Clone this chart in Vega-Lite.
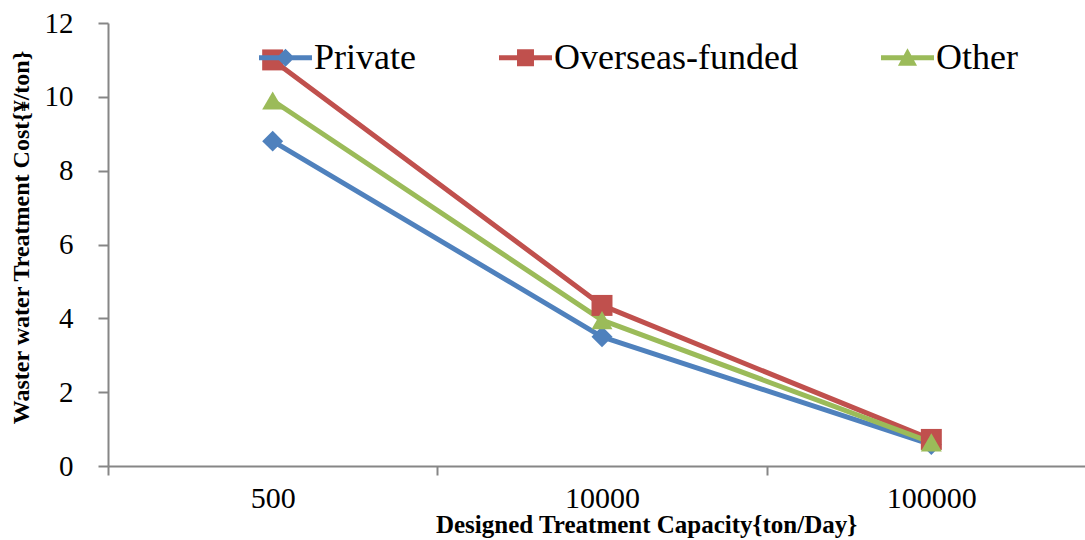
{
  "$schema": "https://vega.github.io/schema/vega-lite/v6.json",
  "width": 988,
  "height": 443,
  "autosize": {"type": "none"},
  "padding": {"left": 108, "top": 23, "right": 0, "bottom": 74},
  "background": "white",
  "config": {"view": {"stroke": null}, "font": "Liberation Serif"},
  "data": {
    "values": [
      {"capacity": "500", "series": "Private", "cost": 8.8},
      {"capacity": "10000", "series": "Private", "cost": 3.5},
      {"capacity": "100000", "series": "Private", "cost": 0.58},
      {"capacity": "500", "series": "Overseas-funded", "cost": 11.0},
      {"capacity": "10000", "series": "Overseas-funded", "cost": 4.35},
      {"capacity": "100000", "series": "Overseas-funded", "cost": 0.72},
      {"capacity": "500", "series": "Other", "cost": 9.9},
      {"capacity": "10000", "series": "Other", "cost": 3.95},
      {"capacity": "100000", "series": "Other", "cost": 0.64}
    ]
  },
  "encoding": {
    "x": {
      "field": "capacity",
      "type": "ordinal",
      "sort": ["500", "10000", "100000"],
      "bandPosition": 0.5,
      "scale": {"type": "band", "paddingInner": 0, "paddingOuter": 0},
      "axis": {
        "title": "Designed Treatment Capacity{ton/Day}",
        "titleFont": "Liberation Serif",
        "titleFontWeight": "bold",
        "titleFontSize": 25,
        "titleColor": "black",
        "titleX": 538,
        "titleY": 66,
        "titleBaseline": "alphabetic",
        "titleAnchor": null,
        "titleAlign": "center",
        "labelAngle": 0,
        "labelFontSize": 30,
        "labelColor": "black",
        "labelPadding": 8,
        "tickBand": "extent",
        "tickSize": 9,
        "tickWidth": 2,
        "tickColor": "#868686",
        "domainColor": "#868686",
        "domainWidth": 2,
        "grid": false
      }
    },
    "y": {
      "field": "cost",
      "type": "quantitative",
      "scale": {"domain": [0, 12], "nice": false},
      "axis": {
        "title": "Waster water Treatment Cost{¥/ton}",
        "titleFont": "Liberation Serif",
        "titleFontWeight": "bold",
        "titleFontSize": 24,
        "titleColor": "black",
        "titleAngle": -90,
        "titleX": -87,
        "titleY": 214,
        "titleAlign": "center",
        "titleBaseline": "middle",
        "titleAnchor": null,
        "values": [0, 2, 4, 6, 8, 10, 12],
        "format": "d",
        "labelFontSize": 29,
        "labelColor": "black",
        "labelPadding": 25,
        "tickSize": 10,
        "tickWidth": 2,
        "tickColor": "#868686",
        "domainColor": "#868686",
        "domainWidth": 2,
        "grid": false
      }
    },
    "color": {
      "field": "series",
      "type": "nominal",
      "scale": {"domain": ["Private", "Overseas-funded", "Other"], "range": ["#4F81BD", "#C0504D", "#9BBB59"]},
      "legend": {
        "title": null,
        "orient": "none",
        "legendX": 151,
        "legendY": 8,
        "direction": "horizontal",
        "columnPadding": 83,
        "labelOffset": 2,
        "labelFont": "Liberation Serif",
        "labelFontSize": 36,
        "labelColor": "black",
        "labelLimit": 0,
        "symbolSize": 2809,
        "symbolStrokeWidth": 0,
        "symbolOpacity": 1,
        "encode": {
          "symbols": {
            "update": {
              "shape": {"signal": "datum.value === 'Private' ? 'M-1,-0.09H1V0.09H-1Z M0,-0.34L0.34,0L0,0.34L-0.34,0Z' : datum.value === 'Overseas-funded' ? 'M-1,-0.09H1V0.09H-1Z M-0.32,-0.32H0.32V0.32H-0.32Z' : 'M-1,-0.09H1V0.09H-1Z M0,-0.36L0.36,0.3L-0.36,0.3Z'"},
              "size": {"value": 2809},
              "fill": {"signal": "datum.value === 'Private' ? '#4F81BD' : datum.value === 'Overseas-funded' ? '#C0504D' : '#9BBB59'"},
              "stroke": {"value": "transparent"},
              "strokeWidth": {"value": 0},
              "opacity": {"value": 1}
            }
          }
        }
      }
    }
  },
  "layer": [
    {
      "mark": {"type": "line", "strokeWidth": 5, "strokeJoin": "round"}
    },
    {
      "mark": {"type": "point", "filled": true, "opacity": 1, "size": 440},
      "encoding": {
        "shape": {
          "condition": [
            {"test": "datum.series === 'Private'", "value": "diamond"},
            {"test": "datum.series === 'Overseas-funded'", "value": "square"}
          ],
          "value": "triangle-up"
        }
      }
    }
  ]
}
